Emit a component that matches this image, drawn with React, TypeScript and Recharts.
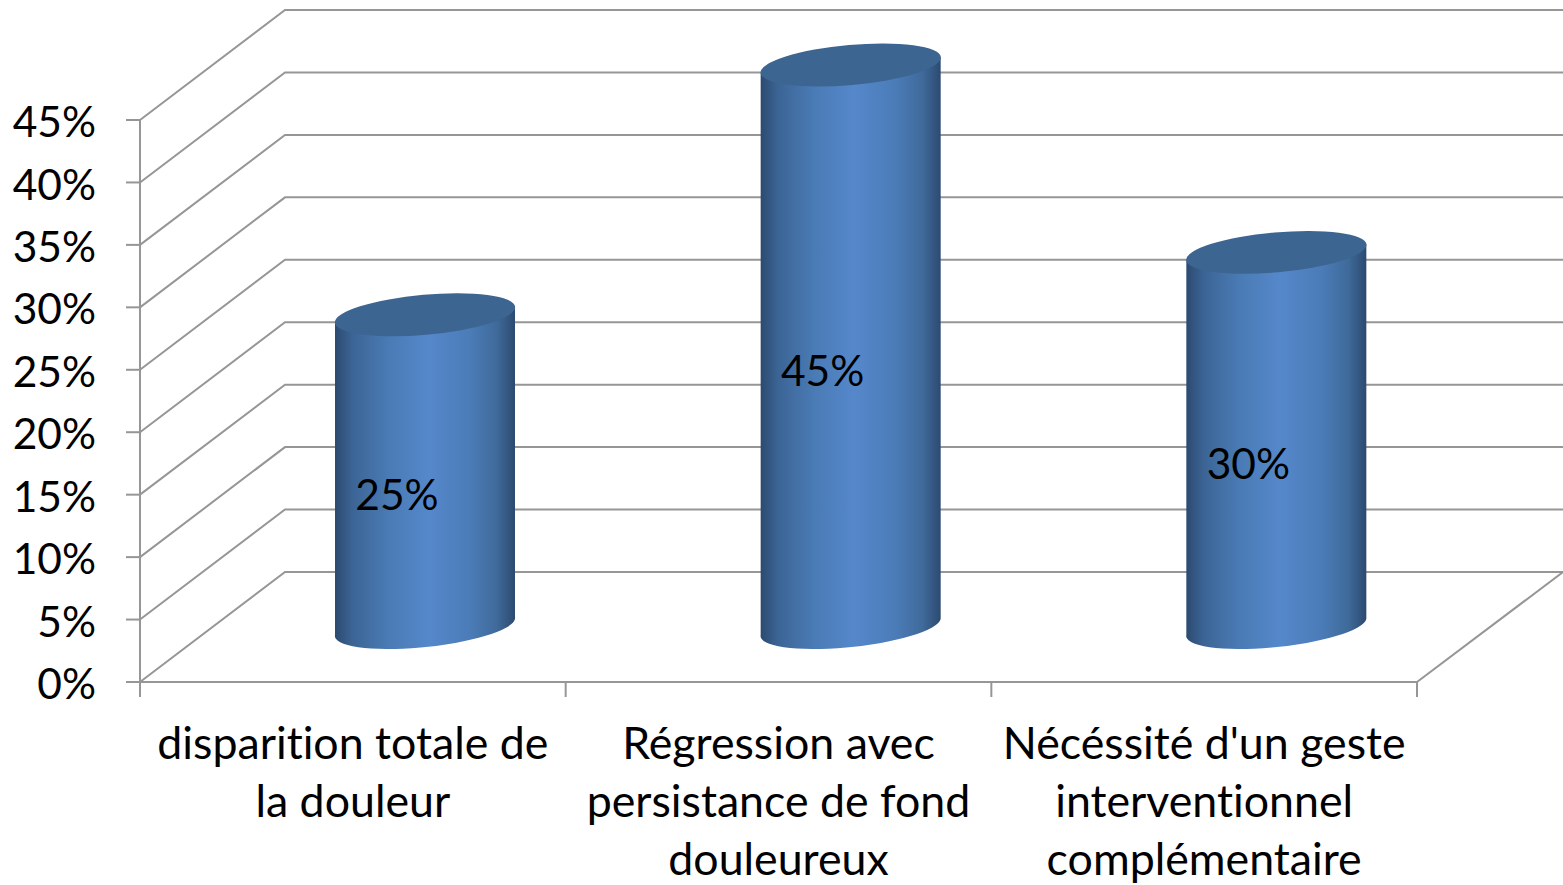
import { Bar, BarChart, CartesianGrid, LabelList, XAxis, YAxis } from "recharts";

const categories = [
  ["disparition totale de", "la douleur"],
  ["Régression avec", "persistance de fond", "douleureux"],
  ["Nécéssité d'un geste", "interventionnel", "complémentaire"],
];
const values = [0.25, 0.45, 0.3];
const yTicks = [0, 0.05, 0.1, 0.15, 0.2, 0.25, 0.3, 0.35, 0.4, 0.45];

const data = categories.map((lines, i) => ({ name: lines.join(" "), value: values[i] }));

const FONT = "Lato";
const FONT_SIZE = 42.5;
const LINE = "#969696";
// depth of the fake 3D box
const BACK_DX = 145;
const BACK_DY = 110;
const BAR_DX = 72;
const BAR_DY = 55;
const BAND = (1417 - 140) / 3;
const noLigatures = { fontVariantLigatures: "none" } as const;

function gridLine(props: any) {
  const { x1, y1, index } = props;
  const bx = x1 + BACK_DX;
  const by = y1 - BACK_DY;
  return (
    <g key={index}>
      <path d={`M${x1},${y1} L${bx},${by} L1563,${by}`} fill="none" stroke={LINE} strokeWidth={2} />
      {y1 > 670 && <path d={`M1417,${y1} L1563,${by}`} fill="none" stroke={LINE} strokeWidth={2} />}
    </g>
  );
}

function Cylinder(props: any) {
  const { x, y, width, height } = props;
  const left = x + BAR_DX;
  const right = left + width;
  const cx = left + width / 2;
  const top = y - BAR_DY;
  const bottom = top + height;
  const rx = width / 2 + 0.5;
  const ry = 20;
  const tiltY = 8;
  return (
    <g>
      <path
        d={`M${left},${top + tiltY} L${left},${bottom + tiltY} A${rx},${ry} -6 0 0 ${right},${bottom - tiltY} L${right},${top - tiltY} Z`}
        fill="url(#cylinderSide)"
      />
      <ellipse cx={cx} cy={top} rx={rx} ry={ry} transform={`rotate(-5 ${cx} ${top})`} fill="#3d6592" />
    </g>
  );
}

function barLabel(props: any) {
  const { x, y, width, height, value } = props;
  return (
    <text
      x={x + width / 2 + 44}
      y={y + height / 2 - 32}
      textAnchor="middle"
      dominantBaseline="central"
      fontFamily={FONT}
      fontSize={FONT_SIZE}
      fill="#000"
    >
      {`${Math.round(value * 100)}%`}
    </text>
  );
}

function CategoryTick(props: any) {
  const { x, index } = props;
  const lines = categories[index];
  const left = x - BAND / 2;
  return (
    <g>
      <line x1={left} y1={682} x2={left} y2={697} stroke={LINE} strokeWidth={2} />
      {index === categories.length - 1 && (
        <line x1={left + BAND} y1={682} x2={left + BAND} y2={697} stroke={LINE} strokeWidth={2} />
      )}
      {lines.map((line: string, i: number) => (
        <text
          key={line}
          x={x}
          y={759 + i * 58}
          textAnchor="middle"
          fontFamily={FONT}
          fontSize={44.7}
          style={noLigatures}
          fill="#000"
        >
          {line}
        </text>
      ))}
    </g>
  );
}

export default function App() {
  return (
    <div style={{ position: "absolute", left: 0, top: 0 }}>
      <BarChart
        width={1563}
        height={885}
        data={data}
        margin={{ top: 120, right: 146, bottom: 0, left: 0 }}
        barCategoryGap={0}
      >
        <defs>
          <linearGradient id="cylinderSide" x1="0" y1="0" x2="1" y2="0">
            <stop offset="0" stopColor="#2c4a70" />
            <stop offset="0.1" stopColor="#3c6596" />
            <stop offset="0.3" stopColor="#4a7bb5" />
            <stop offset="0.52" stopColor="#5588cb" />
            <stop offset="0.75" stopColor="#4b7cb8" />
            <stop offset="0.9" stopColor="#3f6a9a" />
            <stop offset="1" stopColor="#2c4a70" />
          </linearGradient>
        </defs>
        <CartesianGrid horizontal={gridLine} vertical={false} />
        <XAxis
          dataKey="name"
          height={203}
          interval={0}
          tickLine={false}
          axisLine={{ stroke: LINE, strokeWidth: 2 }}
          tick={<CategoryTick />}
        />
        <YAxis
          domain={[0, 0.45]}
          ticks={yTicks}
          width={140}
          interval={0}
          tickSize={14}
          tickMargin={30}
          axisLine={{ stroke: LINE, strokeWidth: 2 }}
          tickLine={{ stroke: LINE, strokeWidth: 2 }}
          tickFormatter={(v: number) => `${Math.round(v * 100)}%`}
          tick={{ fontFamily: FONT, fontSize: FONT_SIZE, fill: "#000", dy: 2 }}
        />
        <Bar dataKey="value" barSize={180} shape={<Cylinder />} isAnimationActive={false}>
          <LabelList dataKey="value" content={barLabel} />
        </Bar>
      </BarChart>
    </div>
  );
}
